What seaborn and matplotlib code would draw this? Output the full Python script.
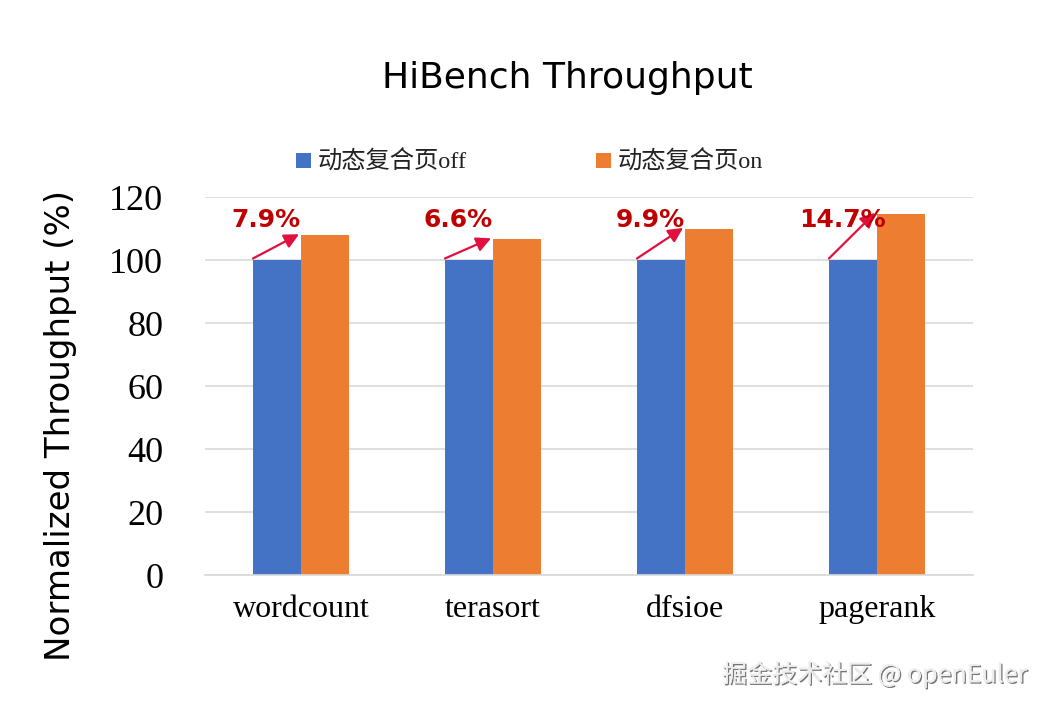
import matplotlib
matplotlib.use("Agg")
import matplotlib.pyplot as plt
import matplotlib.patheffects as pe
import pandas as pd
import seaborn as sns

# --- data ---
categories = ["wordcount", "terasort", "dfsioe", "pagerank"]
series_names = ["动态复合页off", "动态复合页on"]
off_values = [100, 100, 100, 100]
on_values = [107.9, 106.6, 109.9, 114.7]
gain_labels = ["7.9%", "6.6%", "9.9%", "14.7%"]
yticks = [0, 20, 40, 60, 80, 100, 120]

df = pd.DataFrame({
    "benchmark": categories * 2,
    "mode": [series_names[0]] * 4 + [series_names[1]] * 4,
    "value": off_values + on_values,
})

sns.set_theme(style="white")
plt.rcParams["font.family"] = ["Liberation Serif", "Noto Sans CJK SC", "DejaVu Sans"]
plt.rcParams["text.color"] = "black"

fig = plt.figure(figsize=(10.48, 7.1), dpi=100)
ax = fig.add_axes([0.1956, 0.19, 0.7328, 0.5325])

sns.barplot(data=df, x="benchmark", y="value", hue="mode",
            palette=["#4472C4", "#ED7D31"], width=0.5, saturation=1,
            linewidth=0, ax=ax, legend=True)

ax.set_ylim(0, 120)
ax.set_yticks(yticks)
ax.set_xlim(-0.5, 3.5)
ax.yaxis.grid(True, color="#D9D9D9", linewidth=1.2)
ax.set_axisbelow(True)
for s in ["top", "right", "left"]:
    ax.spines[s].set_visible(False)
ax.spines["bottom"].set_color("#D9D9D9")
ax.spines["bottom"].set_linewidth(1.2)
ax.tick_params(axis="both", length=0, colors="#000000")
ax.tick_params(axis="x", pad=14, labelsize=23)
ax.tick_params(axis="y", pad=30, labelsize=26)
for lab in ax.get_xticklabels() + ax.get_yticklabels():
    lab.set_family("Liberation Serif")
ax.set_xlabel("")
ax.set_ylabel("Normalized Throughput (%)", fontsize=24.5, color="black",
              family=["DejaVu Sans"])
ax.yaxis.set_label_coords(-0.167, 0.397)

# annotations: arrow from blue bar top-left to orange bar top-left
for i, (v, lab) in enumerate(zip(on_values, gain_labels)):
    ax.annotate("", xy=(i - 0.01, v + 0.3), xytext=(i - 0.25, 100.5),
                arrowprops=dict(arrowstyle="-|>", color="#E0103F", lw=1.6,
                                mutation_scale=22, shrinkA=0, shrinkB=0))
    ax.text(i - 0.18, 112.6, lab, ha="center", va="center", fontsize=18,
            fontweight="bold", color="#C00000", family=["DejaVu Sans"])

leg = ax.legend(loc="center", bbox_to_anchor=(0.423, 1.092), ncol=2,
                frameon=False, handlelength=0.6, handleheight=0.6,
                handletextpad=0.3, columnspacing=5.3,
                prop={"family": ["Liberation Serif", "Noto Sans CJK SC"], "size": 17.5})
for t in leg.get_texts():
    t.set_color("#222222")

fig.text(0.541, 0.89, "HiBench Throughput", ha="center", va="center",
         fontsize=26, color="black", family=["DejaVu Sans"])

fig.text(0.98, 0.05, "掘金技术社区 @ openEuler", ha="right", va="center",
         fontsize=18, color="#EEEEEE", family=["Noto Sans CJK SC", "DejaVu Sans"],
         path_effects=[pe.withSimplePatchShadow(offset=(1, -1), shadow_rgbFace="#555555", alpha=0.8),
                       pe.Normal()])

fig.savefig("out.png", dpi=100)
